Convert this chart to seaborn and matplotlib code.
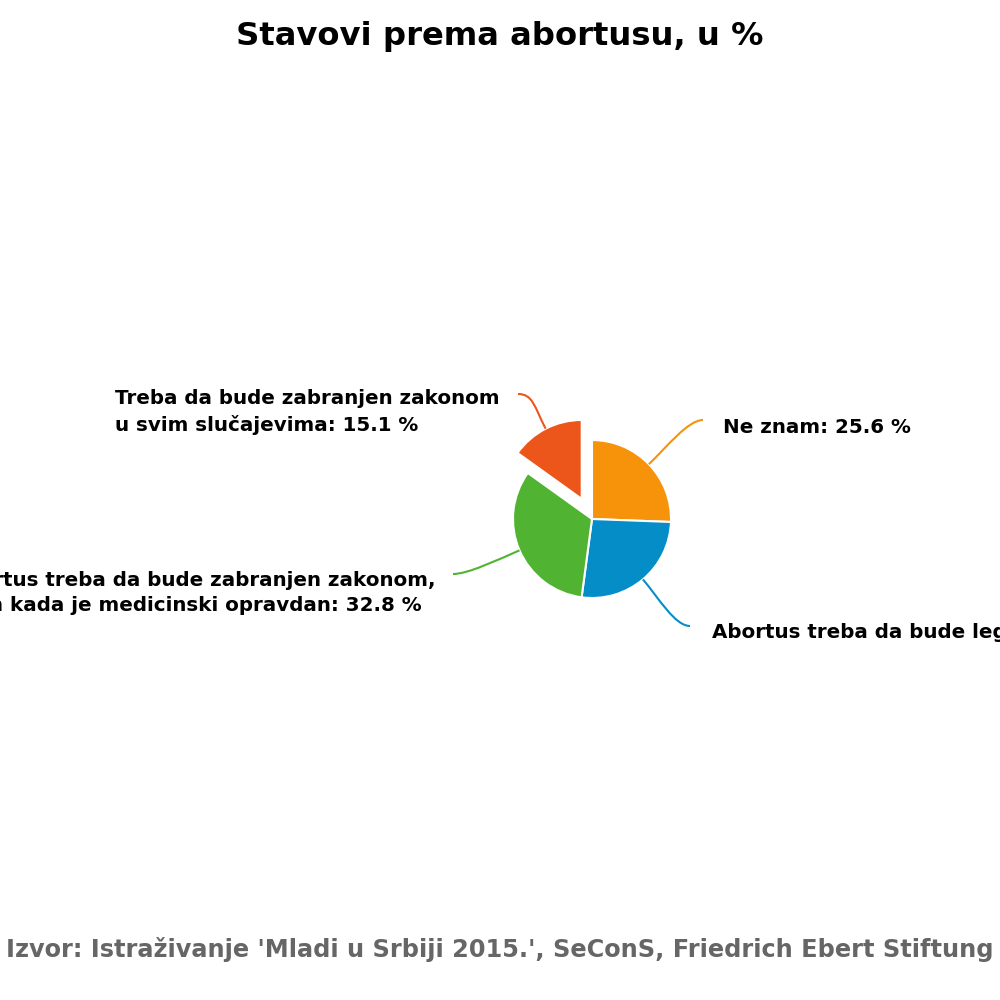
import numpy as np
import matplotlib
matplotlib.use("Agg")
import matplotlib.pyplot as plt
from matplotlib.path import Path
from matplotlib.patches import PathPatch
import seaborn as sns

# Data
labels = ["Ne znam", "Abortus treba da bude legalan",
          "Abortus treba da bude zabranjen zakonom,\nosim kada je medicinski opravdan",
          "Treba da bude zabranjen zakonom\nu svim slučajevima"]
values = [25.6, 26.5, 32.8, 15.1]
colors = ["#F7930B", "#058DC7", "#50B432", "#ED561B"]
sliced = [False, False, False, True]

title = "Stavovi prema abortusu, u %"
source = "Izvor: Istraživanje 'Mladi u Srbiji 2015.', SeConS, Friedrich Ebert Stiftung"

sns.set_theme(style="white")
plt.rcParams['font.family'] = ['DejaVu Sans']

fig = plt.figure(figsize=(10, 10), dpi=100)
ax = fig.add_axes([0, 0, 1, 1])
ax.axis('off')

# pie centre / radius in pixel units (y flipped so 0 is bottom)
cx, cy, r = 592, 1000 - 519, 79
offset = 0.285 * r
wedges, _ = ax.pie(values, colors=sns.color_palette(colors), startangle=90,
                   counterclock=False, explode=[offset if s else 0 for s in sliced],
                   center=(cx, cy), radius=r,
                   wedgeprops=dict(edgecolor="white", linewidth=1.5))
ax.set_xlim(0, 1000)
ax.set_ylim(0, 1000)
ax.set_aspect('equal')

# connector end, text anchor (top of first line), alignment
label_pos = [
    ((703, 1000 - 420), (723, 1000 - 418), 'left'),
    ((690, 1000 - 626), (712, 1000 - 623), 'left'),
    ((453, 1000 - 574), (436, 1000 - 571), 'right'),
    ((518, 1000 - 394), (500, 1000 - 389), 'right'),
]

for i, w in enumerate(wedges):
    mid = np.deg2rad((w.theta1 + w.theta2) / 2)
    wx, wy = w.center
    sx, sy = wx + r * np.cos(mid), wy + r * np.sin(mid)
    (ex, ey), (tx, ty), ha = label_pos[i]
    c1 = (sx + 25 * np.cos(mid), sy + 25 * np.sin(mid))
    c2 = (ex + (-15 if ha == 'left' else 15), ey)
    path = Path([(sx, sy), c1, c2, (ex, ey)],
                [Path.MOVETO, Path.CURVE4, Path.CURVE4, Path.CURVE4])
    ax.add_patch(PathPatch(path, fill=False, edgecolor=colors[i], linewidth=1.5))
    ax.text(tx, ty, f"{labels[i]}: {values[i]} %", ha=ha, va='top',
            multialignment='left', fontsize=14.3, fontweight='bold',
            color='black', linespacing=1.42)

fig.text(0.5, 1 - 37 / 1000, title, ha='center', va='center',
         fontsize=23.2, fontweight='bold', color='black')
fig.text(0.5, 1 - 950 / 1000, source, ha='center', va='center',
         fontsize=17.3, fontweight='bold', color='#666666')

plt.savefig("out.png", dpi=100)
